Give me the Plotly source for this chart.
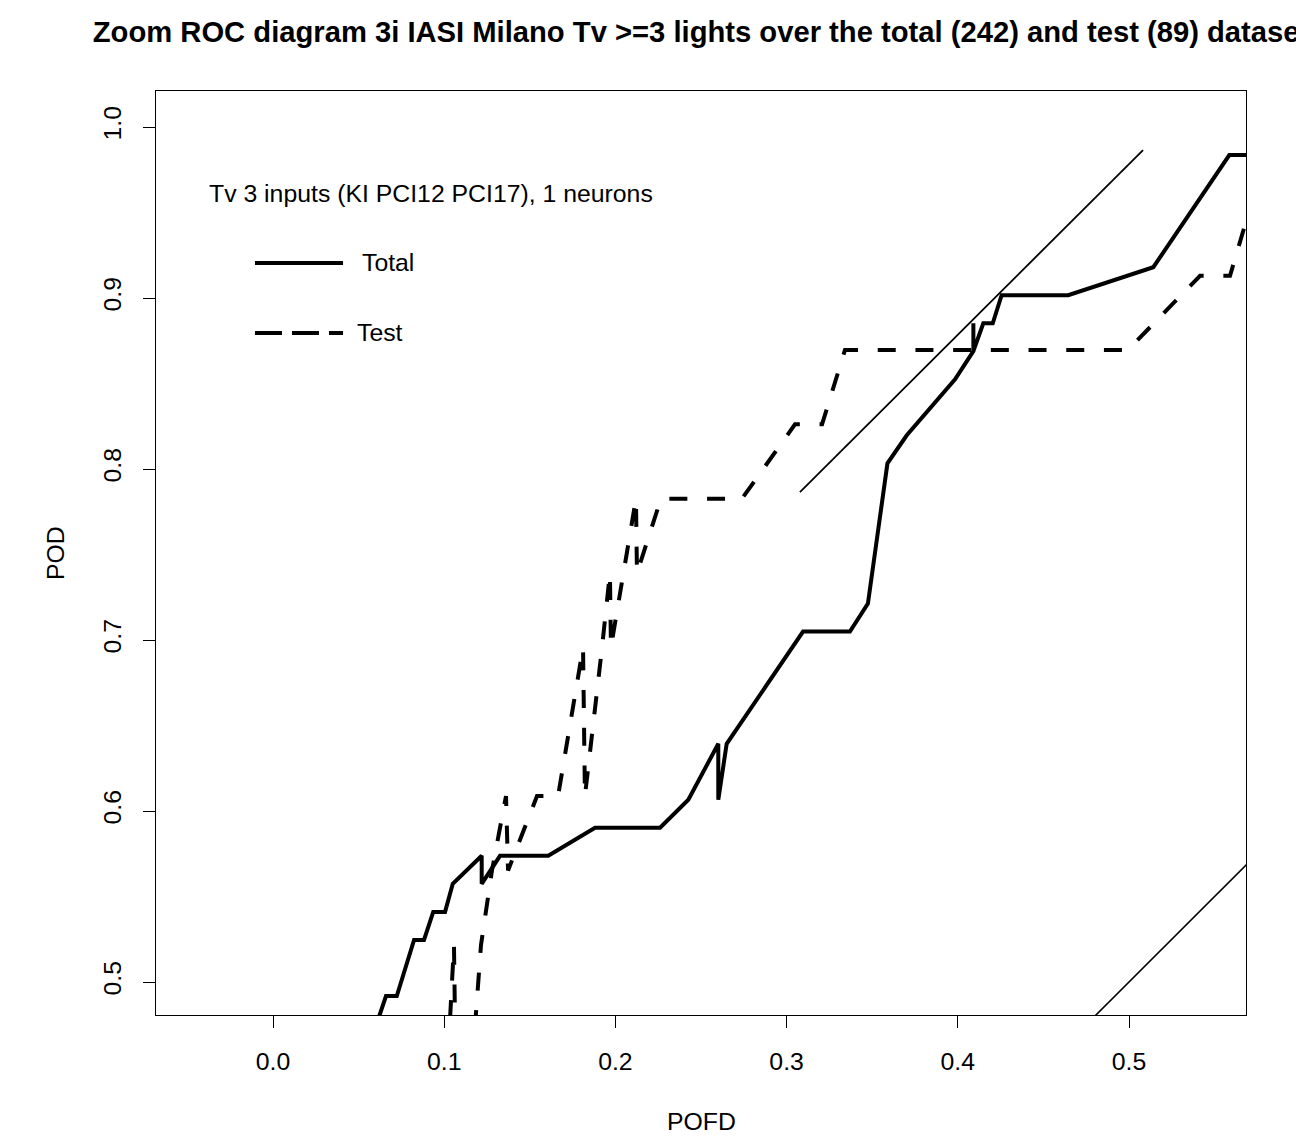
import plotly.graph_objects as go

# ---------------- data ----------------
pofd_total = [0.0605, 0.0660, 0.0723, 0.0824, 0.0882, 0.0936, 0.1005, 0.1050, 0.1219, 0.1219,
              0.1326, 0.1608, 0.1881, 0.2261, 0.2426, 0.2601, 0.2601, 0.2650, 0.3096, 0.3370,
              0.3475, 0.3589, 0.3702, 0.3984, 0.4091, 0.4091, 0.4091, 0.4149, 0.4204, 0.4256,
              0.4645, 0.5142, 0.5586, 0.6000]
pod_total = [0.4754, 0.4918, 0.4918, 0.5246, 0.5246, 0.5410, 0.5410, 0.5574, 0.5738, 0.5574,
             0.5738, 0.5738, 0.5902, 0.5902, 0.6066, 0.6393, 0.6066, 0.6393, 0.7049, 0.7049,
             0.7213, 0.8033, 0.8197, 0.8525, 0.8689, 0.8852, 0.8689, 0.8852, 0.8852, 0.9016,
             0.9016, 0.9180, 0.9836, 0.9836]

pofd_test = [0.1011, 0.1057, 0.1069, 0.1151, 0.1215, 0.1279, 0.1361, 0.1373, 0.1542, 0.1665,
             0.1811, 0.1822, 0.1922, 0.1968, 0.1974, 0.2120, 0.2126, 0.2266, 0.2739, 0.3049,
             0.3207, 0.3341, 0.4994, 0.5415, 0.5590, 0.5718]
pod_test = [0.4348, 0.5217, 0.4348, 0.4348, 0.5217, 0.5652, 0.6087, 0.5652, 0.6087, 0.6087,
            0.6957, 0.6087, 0.6957, 0.7391, 0.6957, 0.7826, 0.7391, 0.7826, 0.7826, 0.8261,
            0.8261, 0.8696, 0.8696, 0.9130, 0.9130, 0.9565]

diag_x = [0.0, 1.0]
diag_y = [0.0, 1.0]
seg_x = [0.3078, 0.5082]
seg_y = [0.7865, 0.9865]

x_ticks = [0.0, 0.1, 0.2, 0.3, 0.4, 0.5]
x_tick_labels = ["0.0", "0.1", "0.2", "0.3", "0.4", "0.5"]
y_ticks = [0.5, 0.6, 0.7, 0.8, 0.9, 1.0]
y_tick_labels = ["0.5", "0.6", "0.7", "0.8", "0.9", "1.0"]

title_text = "Zoom ROC diagram 3i IASI Milano Tv >=3 lights over the total (242) and test (89) dataset"
legend_header = "Tv 3 inputs (KI PCI12 PCI17), 1 neurons"
series_names = ["Total", "Test"]

FONT = "Liberation Sans, Arial, Helvetica, sans-serif"
FS = 24.8

fig = go.Figure()
fig.add_trace(go.Scatter(x=diag_x, y=diag_y, mode="lines",
                         line=dict(color="black", width=1.6), showlegend=False, hoverinfo="skip"))
fig.add_trace(go.Scatter(x=seg_x, y=seg_y, mode="lines",
                         line=dict(color="black", width=1.8), showlegend=False, hoverinfo="skip"))
fig.add_trace(go.Scatter(x=pofd_total, y=pod_total, mode="lines", name=series_names[0],
                         line=dict(color="black", width=4), showlegend=False))
fig.add_trace(go.Scatter(x=pofd_test, y=pod_test, mode="lines", name=series_names[1],
                         line=dict(color="black", width=4, dash="18px,19.7px"), showlegend=False))

# legend (drawn manually, R style)
fig.add_shape(type="line", xref="paper", yref="paper", x0=0.0908, x1=0.1716, y0=0.8139, y1=0.8139,
              line=dict(color="black", width=4))
fig.add_shape(type="line", xref="paper", yref="paper", x0=0.0908, x1=0.1716, y0=0.7381, y1=0.7381,
              line=dict(color="black", width=4, dash="27px,10px"))
fig.add_annotation(xref="paper", yref="paper", x=0.0468, y=0.8896, text=legend_header,
                   showarrow=False, xanchor="left", yanchor="middle",
                   font=dict(family=FONT, size=FS, color="black"))
fig.add_annotation(xref="paper", yref="paper", x=0.1872, y=0.8139, text=series_names[0],
                   showarrow=False, xanchor="left", yanchor="middle",
                   font=dict(family=FONT, size=FS, color="black"))
fig.add_annotation(xref="paper", yref="paper", x=0.1826, y=0.7381, text=series_names[1],
                   showarrow=False, xanchor="left", yanchor="middle",
                   font=dict(family=FONT, size=FS, color="black"))

# axis titles
fig.add_annotation(xref="paper", yref="paper", x=0.5, y=-0.1158, text="POFD",
                   showarrow=False, xanchor="center", yanchor="middle",
                   font=dict(family=FONT, size=FS, color="black"))
fig.add_annotation(xref="paper", yref="paper", x=-0.0927, y=0.5, text="POD", textangle=-90,
                   showarrow=False, xanchor="center", yanchor="middle",
                   font=dict(family=FONT, size=FS, color="black"))

# page body has an 8px margin: figure is 8px smaller so the plot area lands where the reference has it
fig.update_layout(
    width=1296, height=1134,
    margin=dict(l=148, r=58, t=83, b=127),
    paper_bgcolor="white", plot_bgcolor="white",
    title=dict(text="<b>" + title_text + "</b>", x=0.5, xref="paper", xanchor="center",
               y=1 - 24 / 1134, yref="container", yanchor="middle",
               font=dict(family=FONT, size=29.2, color="black")),
    font=dict(family=FONT, size=FS, color="black"),
)
fig.update_xaxes(range=[-0.06834, 0.56834], tickmode="array", tickvals=x_ticks, ticktext=x_tick_labels,
                 showgrid=False, zeroline=False, showline=True, mirror=True, linecolor="black", linewidth=1,
                 ticks="outside", ticklen=12, tickwidth=1, tickcolor="black", ticklabelstandoff=12,
                 tickfont=dict(family=FONT, size=FS, color="black"))
fig.update_yaxes(range=[0.48070, 1.02105], tickmode="array", tickvals=y_ticks, ticktext=y_tick_labels,
                 tickangle=-90,
                 showgrid=False, zeroline=False, showline=True, mirror=True, linecolor="black", linewidth=1,
                 ticks="outside", ticklen=12, tickwidth=1, tickcolor="black", ticklabelstandoff=12,
                 tickfont=dict(family=FONT, size=FS, color="black"))

fig.write_html("out.html")
